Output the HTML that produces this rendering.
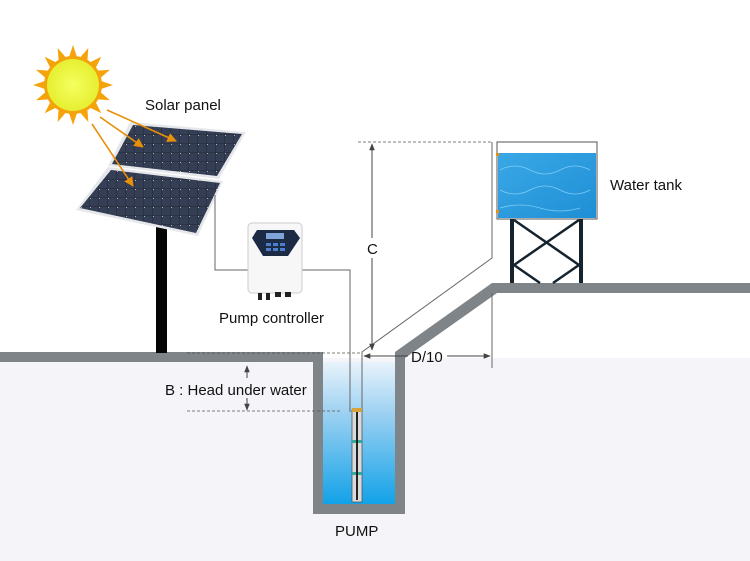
<!DOCTYPE html>
<html><head><meta charset="utf-8"><style>
html,body{margin:0;padding:0;background:#fff;}
svg{display:block;font-family:"Liberation Sans","DejaVu Sans",sans-serif;}
</style></head><body>
<svg width="750" height="561" viewBox="0 0 750 561" xmlns="http://www.w3.org/2000/svg">
<defs>
<linearGradient id="w" x1="0" y1="0" x2="0" y2="1">
<stop offset="0" stop-color="#e8f3fb"/><stop offset="0.35" stop-color="#9fd2f2"/><stop offset="1" stop-color="#12a2e8"/></linearGradient>
<linearGradient id="t" x1="0" y1="0" x2="1" y2="1">
<stop offset="0" stop-color="#3aa8e6"/><stop offset="1" stop-color="#1f8fd6"/></linearGradient>
<radialGradient id="s"><stop offset="0" stop-color="#f4ff60"/><stop offset="1" stop-color="#e6ef30"/></radialGradient>
<marker id="a" viewBox="0 0 10 10" refX="9" refY="5" markerWidth="7" markerHeight="7" orient="auto-start-reverse"><path d="M0,1 L10,5 L0,9z" fill="#444"/></marker>
<marker id="o" viewBox="0 0 10 10" refX="9" refY="5" markerWidth="6" markerHeight="6" orient="auto"><path d="M0,0 L10,5 L0,10z" fill="#e8900a"/></marker>
<pattern id="cells" width="9" height="9" patternUnits="userSpaceOnUse"><rect width="9" height="9" fill="#2a3244"/><rect width="8" height="8" fill="#343e54"/><circle cx="0" cy="0" r="1" fill="#ddd"/></pattern>
</defs>
<rect x="0" y="358" width="750" height="203" fill="#f5f5f9"/>
<rect x="323" y="362" width="72" height="142" fill="url(#w)"/>
<path d="M0,352 H323 V504 H395 V352 L492,283 H750 V293 H497 L405,358 V514 H313 V362 H0Z" fill="#7e8487"/>
<g transform="translate(73,85)">
<g fill="#f5a30a">
<polygon points="0,-40 5,-25 -5,-25" transform="rotate(0)"/><polygon points="0,-40 5,-25 -5,-25" transform="rotate(22.5)"/><polygon points="0,-40 5,-25 -5,-25" transform="rotate(45)"/><polygon points="0,-40 5,-25 -5,-25" transform="rotate(67.5)"/><polygon points="0,-40 5,-25 -5,-25" transform="rotate(90)"/><polygon points="0,-40 5,-25 -5,-25" transform="rotate(112.5)"/><polygon points="0,-40 5,-25 -5,-25" transform="rotate(135)"/><polygon points="0,-40 5,-25 -5,-25" transform="rotate(157.5)"/><polygon points="0,-40 5,-25 -5,-25" transform="rotate(180)"/><polygon points="0,-40 5,-25 -5,-25" transform="rotate(202.5)"/><polygon points="0,-40 5,-25 -5,-25" transform="rotate(225)"/><polygon points="0,-40 5,-25 -5,-25" transform="rotate(247.5)"/><polygon points="0,-40 5,-25 -5,-25" transform="rotate(270)"/><polygon points="0,-40 5,-25 -5,-25" transform="rotate(292.5)"/><polygon points="0,-40 5,-25 -5,-25" transform="rotate(315)"/><polygon points="0,-40 5,-25 -5,-25" transform="rotate(337.5)"/>
<circle r="29"/></g>
<circle r="26" fill="url(#s)"/>
</g>
<rect x="156" y="225" width="11" height="128" fill="#050505"/>
<polygon points="130,122 246,132 219,179 108,166" fill="#e5e7ea"/>
<polygon points="133,125 242,134 217,176 112,164" fill="url(#cells)"/>
<polygon points="108,167 223,181 198,236 76,210" fill="#e5e7ea"/>
<polygon points="111,170 220,183 196,233 80,208" fill="url(#cells)"/>
<g stroke="#e8900a" stroke-width="1.6" marker-end="url(#o)">
<line x1="107" y1="110" x2="176" y2="141"/>
<line x1="100" y1="117" x2="143" y2="147"/>
<line x1="92" y1="124" x2="133" y2="186"/>
</g>
<g fill="none" stroke="#666" stroke-width="1">
<polyline points="215,195 215,270 248,270"/>
<polyline points="302,270 350,270 350,412"/>
<polyline points="362,412 362,352 492,258 492,142"/>
<line x1="492" y1="293" x2="492" y2="368"/>
</g>
<rect x="248" y="223" width="54" height="70" rx="4" fill="#f7f7f7" stroke="#ccc"/>
<path d="M257,230 H294 L300,238 L288,256 H263 L252,238Z" fill="#1d2a44"/>
<rect x="266" y="233" width="18" height="6" fill="#7fa5d8"/>
<g fill="#4a7fd0"><rect x="266" y="243" width="5" height="3"/><rect x="273" y="243" width="5" height="3"/><rect x="280" y="243" width="5" height="3"/><rect x="266" y="248" width="5" height="3"/><rect x="273" y="248" width="5" height="3"/><rect x="280" y="248" width="5" height="3"/></g>
<g fill="#222"><rect x="258" y="293" width="4" height="7"/><rect x="266" y="293" width="4" height="7"/><rect x="275" y="292" width="6" height="5"/><rect x="285" y="292" width="6" height="5"/></g>
<rect x="497" y="142" width="100" height="77" fill="#fff" stroke="#555"/>
<rect x="498" y="153" width="98" height="65" fill="url(#t)"/>
<g stroke="#9fe0ff" stroke-width="0.8" fill="none" opacity="0.7"><path d="M500,170 q15,-8 30,0 t30,0 t30,0"/><path d="M500,190 q15,8 30,0 t30,0 t30,0"/><path d="M500,208 q20,-6 40,0 t40,0"/></g>
<rect x="496" y="153" width="3" height="3" fill="#e8900a"/><rect x="496" y="210" width="3" height="3" fill="#e8900a"/>
<g stroke="#14232e" stroke-width="4"><line x1="512" y1="219" x2="512" y2="283"/><line x1="581" y1="219" x2="581" y2="283"/></g>
<g stroke="#14232e" stroke-width="2.5"><line x1="514" y1="220" x2="579" y2="265"/><line x1="579" y1="220" x2="514" y2="265"/><line x1="514" y1="265" x2="540" y2="283"/><line x1="579" y1="265" x2="553" y2="283"/></g>
<rect x="352" y="410" width="10" height="92" fill="#d8dadc" stroke="#555" stroke-width="0.8"/>
<rect x="352" y="408" width="10" height="4" fill="#d6a23a"/>
<rect x="352" y="440" width="10" height="3" fill="#3a9"/>
<rect x="352" y="472" width="10" height="3" fill="#3a9"/>
<line x1="357" y1="412" x2="357" y2="500" stroke="#222" stroke-width="2"/>
<g stroke="#555" stroke-width="0.8" stroke-dasharray="3,2" fill="none">
<line x1="358" y1="142" x2="492" y2="142"/>
<line x1="187" y1="353" x2="360" y2="353"/>
<line x1="187" y1="411" x2="342" y2="411"/>
</g>
<g stroke="#444" stroke-width="1" fill="none">
<line x1="372" y1="144" x2="372" y2="238" marker-start="url(#a)"/>
<line x1="372" y1="258" x2="372" y2="350" marker-end="url(#a)"/>
<line x1="364" y1="356" x2="408" y2="356" marker-start="url(#a)"/>
<line x1="447" y1="356" x2="490" y2="356" marker-end="url(#a)"/>
<line x1="247" y1="366" x2="247" y2="378" marker-start="url(#a)"/>
<line x1="247" y1="398" x2="247" y2="410" marker-end="url(#a)"/>
</g>
<g fill="#111" font-size="15">
<text x="145" y="110">Solar panel</text>
<text x="219" y="323">Pump controller</text>
<text x="610" y="190">Water tank</text>
<text x="367" y="254">C</text>
<text x="411" y="362">D/10</text>
<text x="165" y="395">B : Head under water</text>
<text x="335" y="536">PUMP</text>
</g>
</svg>
</body></html>
